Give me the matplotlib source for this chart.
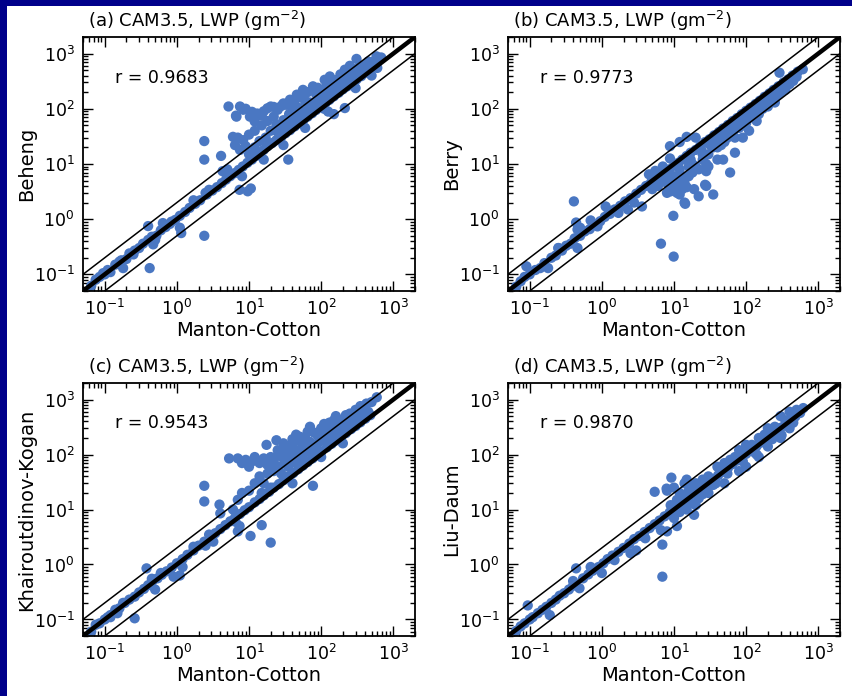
import numpy as np
import matplotlib.pyplot as plt
from matplotlib.patches import Rectangle

# values, (Manton-Cotton, scheme) pairs in g m^-2
beheng = [(0.065,0.062),(0.075,0.08),(0.085,0.09),(0.1,0.1),(0.11,0.12),(0.12,0.11),(0.14,0.15),(0.16,0.17),
          (0.2,0.19),(0.22,0.24),(0.26,0.27),(0.3,0.3),(0.34,0.36),(0.4,0.42),(0.45,0.48),(0.52,0.5),(0.6,0.63),
          (0.7,0.72),(0.8,0.82),(0.95,0.97),(1.1,1.15),(1.3,1.35),(1.5,1.6),(1.8,1.9),(2.1,2.2),(2.6,2.8),(3.1,3.3),
          (3.6,3.8),(4.2,4.5),(4.8,5.2),(5.5,6.0),(6.3,6.8),(7.2,7.8),(8.2,9.0),(9.5,10.5),(11,12),(12.5,14),(14,16),
          (16,18),(18,21),(21,24),(24,27),(28,31),(32,36),(37,41),(43,48),(50,55),(57,63),(65,72),(75,83),(85,95),
          (100,112),(115,128),(130,145),(150,168),(175,195),(200,225),(230,255),(270,300),(310,340),(360,390),
          (420,450),(480,510),
          (5.2,110),(6.6,75),(7.5,110),(8.3,96),(6.7,72),(10.3,72),(12,59),(9,100),(11,88),(13,82),(15,75),(16,90),
          (18,102),(20,110),(22,108),(25,96),(28,112),(30,125),(33,118),(37,146),(42,130),(46,180),(52,160),(56,220),
          (65,200),(77,255),(90,240),(112,335),(132,385),(160,330),(185,420),(213,510),(250,440),(309,800),(350,560),
          (420,590),(500,700),(585,890),(680,850),
          (27,48),(22,72),(18,60),(15,50),(12,40),(10,34),(8.3,27),(7,30),(6,31),(6.4,22),(7.5,18),(9,21),(10,15),
          (12,20),(14,26),(17,30),(20,40),(24,52),(30,62),(36,80),(40,92),(48,105),(60,140),(70,130),(85,185),
          (100,200),(120,260),(140,280),(170,300),(200,380),(260,420),(300,520),(380,600),(450,720),
          (25,38),(32,50),(38,60),(45,75),(55,90),(68,105),(80,125),(95,150),(110,170),(130,210),(150,240),
          (180,270),(220,320),(280,380),(330,450),(400,560),(550,650),(250,600),(200,300),(160,230),
          (2.4,26),(2.4,12),(2.4,0.5),(0.42,0.13),(0.4,0.75),(0.47,0.35),(0.5,0.42),(0.64,0.85),(0.84,0.9),(1.1,0.7),
          (1.15,0.56),(1.7,2.2),(0.18,0.13),(0.17,0.18),(0.25,0.23),(0.095,0.105),(2.5,3.0),(2.8,3.4),(4.1,14),
          (4.3,7.4),(5,8),(7.4,3.4),(9.6,3.2),(10.6,3.6),(35,12),(125,89),(213,103),(150,80),(300,237),(60,45),
          (30,22),(16,12),(8,6),(110,100),(500,400),(600,550)]

berry = [(0.065,0.06),(0.075,0.075),(0.085,0.09),(0.09,0.14),(0.1,0.1),(0.12,0.12),(0.14,0.13),(0.16,0.16),
         (0.18,0.13),(0.2,0.2),(0.23,0.22),(0.25,0.3),(0.28,0.27),(0.32,0.33),(0.37,0.36),(0.42,0.45),(0.5,0.5),
         (0.58,0.6),(0.68,0.66),(0.8,0.8),(0.95,0.92),(1.1,1.1),(1.3,1.25),(1.5,1.5),(1.8,1.75),(2.1,2.1),
         (2.5,2.4),(3.0,2.9),(3.5,3.4),(4.1,4.0),(4.8,4.6),(5.6,5.3),(6.5,6.2),(7.5,7.0),(8.6,8.0),(10,9.3),
         (11.5,10.5),(13,12),(15,14),(17,16),(20,18),(23,21),(27,25),(31,28),(36,33),(42,38),(48,44),(56,51),
         (65,60),(75,68),(87,80),(100,92),(115,105),(135,122),(155,140),(180,165),(210,190),(240,220),(280,255),
         (330,300),(380,340),(440,400),(520,470),
         (5,3.5),(6,4),(7,5),(8,4.5),(9,5.5),(10,6),(11,4),(12,5),(13,3.5),(14,4.5),(10,3.5),(11,3),(12,2.8),
         (9,3.2),(8,3),(15,3.8),(13,4.8),(14,2.0),(16,6),(18,7),(20,9),(22,8),(25,12),(28,10),(30,15),(27,4.2),
         (35,2.8),(48,12),(60,7),(40,20),(45,22),(50,25),(55,30),(65,35),(70,30),(80,45),(90,50),(100,55),
         (110,40),(120,70),(140,60),(150,80),(170,100),(200,110),(220,150),(250,130),(280,180),(300,200),
         (350,220),(400,280),(450,320),(500,380),(610,520),(290,450),(15,31),(8.8,21),(8.8,12.6),(12,25),
         (20,30),(22,2.6),(28,4.0),(19,3.5),(28,7.4),(90,30),(70,16),(18,10),(25,15),(35,20),(40,12),(60,40),
         (17,12),(24,18),(32,22),(40,28),(52,38),(75,50),(95,70),(130,90),(160,120),(190,130),(260,200),
         (330,240),(380,300),(12,8),(10,4.5),(11,5.5),(13,6),(9,4),(16,9),(30,9),(45,30),
         (0.41,2.1),(0.44,0.87),(0.46,0.65),(0.46,0.3),(0.7,0.95),(0.87,0.74),(1.13,1.7),(1.25,1.4),(2.8,2.0),
         (3.6,1.7),(6.6,0.36),(9.9,0.21),(9.8,1.15),(14.3,1.9),(0.25,0.3),(0.5,0.7),(1.7,1.3),(2.3,1.5),(4.5,6.5),
         (5.5,7.5),(7,9)]

kogan = [(0.065,0.06),(0.075,0.08),(0.085,0.085),(0.1,0.1),(0.11,0.11),(0.12,0.12),(0.14,0.15),(0.16,0.16),
         (0.19,0.2),(0.22,0.23),(0.26,0.26),(0.3,0.31),(0.35,0.36),(0.4,0.42),(0.46,0.5),(0.54,0.56),(0.62,0.65),
         (0.72,0.75),(0.85,0.88),(1.0,1.05),(1.2,1.25),(1.4,1.5),(1.7,1.8),(2.0,2.2),(2.4,2.6),(2.9,3.1),(3.4,3.7),
         (4.0,4.4),(4.7,5.2),(5.5,6.1),(6.4,7.1),(7.5,8.3),(8.7,9.7),(10,11),(12,13.5),(14,15.5),(16,18),(19,21),
         (22,25),(26,29),(30,34),(35,40),(41,46),(48,54),(56,63),(65,73),(76,85),(88,99),(100,113),(120,135),
         (140,157),(160,180),(190,210),(220,245),(260,290),(300,330),(350,385),(410,450),(480,520),
         (5.3,85),(7,85),(8,70),(9,80),(10,60),(11,75),(12,90),(14,70),(16,85),(18,65),(20,90),(22,75),(25,95),
         (28,110),(30,85),(33,130),(36,100),(40,150),(45,120),(50,180),(55,140),(60,200),(70,170),(80,250),
         (90,220),(100,300),(120,280),(140,350),(160,330),(180,400),(200,420),(250,450),(300,500),(350,550),
         (400,480),(590,1100),(500,900),(424,845),(250,556),(51,210),(24,182),(17.5,150),(30,160),(40,190),
         (65,260),(110,360),(150,420),(220,520),(300,650),(350,760),(15,20),(20,25),(10,22),(8,20),(7,15),
         (6,10),(12,30),(14,40),(18,45),(22,50),(26,60),(32,70),(40,80),(48,95),(60,110),(75,140),(90,160),
         (130,200),(170,250),(230,330),(280,380),(380,500),(450,600),
         (28,45),(35,60),(45,70),(55,90),(70,110),(85,130),(110,180),(140,230),(190,300),(240,380),(320,420),
         (400,650),(16,30),(20,55),(25,120),(35,140),(45,230),(70,320),(100,220),(130,380),(160,500),
         (2.4,27),(2.4,14),(3.9,12.3),(4,8.5),(20,2.5),(10.5,3.3),(15,5.2),(7.4,5),(0.38,0.85),(0.26,0.105),
         (0.18,0.2),(1.1,0.63),(1.7,2.1),(77,27),(7,4),(6.5,6),(0.45,0.55),(0.5,0.35),(0.6,0.7),(0.9,0.6),
         (1.2,0.9),(0.15,0.13),(0.12,0.11),(2.8,3.5),(3.2,2.6),(2.5,2.2),(40,30),(100,90),(200,160)]

liu_daum = [(0.065,0.062),(0.075,0.075),(0.085,0.085),(0.094,0.18),(0.1,0.1),(0.11,0.11),(0.13,0.13),
            (0.15,0.15),(0.17,0.17),(0.19,0.12),(0.2,0.2),(0.23,0.23),(0.26,0.27),(0.3,0.3),(0.35,0.35),
            (0.4,0.41),(0.44,0.85),(0.49,0.37),(0.55,0.56),(0.65,0.66),(0.75,0.77),(0.9,0.9),(1.05,1.05),
            (1.2,1.25),(1.4,1.45),(1.7,1.7),(2.0,2.0),(2.4,2.4),(2.8,2.9),(3.3,3.3),(3.9,3.9),(4.6,4.6),(5.4,5.4),
            (6.3,6.3),(7.4,7.5),(8.7,8.8),(10,10.2),(12,12),(14,14),(16,16.5),(19,19.5),(22,22),(26,26),(30,31),
            (35,36),(41,42),(48,49),(56,57),(65,67),(76,78),(88,90),(100,103),(120,122),(140,143),(160,165),
            (190,195),(220,225),(260,265),(300,305),(350,360),(410,420),(480,490),(560,570),
            (6.9,0.6),(5.4,21),(7.9,24),(9.2,38),(15,35),(6.9,2.3),(6.6,4.2),(19,8),(11,5),(310,224),(140,100),
            (8,22),(10,25),(12,20),(14,30),(18,28),(20,30),(25,35),(30,40),(40,60),(50,70),(60,80),(80,120),
            (100,150),(150,200),(200,300),(300,500),(400,600),(500,650),(620,700),
            (30,20),(50,30),(80,50),(100,60),(150,90),(200,140),(300,200),(400,300),(20,12),(15,10),(8,4),
            (3,1.8),(2.5,1.6),(1,0.7),(9,12),(11,15),(13,18),(16,22),(10,7),(12,9),(17,13),(25,19),(35,28),
            (45,55),(70,90),(120,150),(180,230),(250,320),(0.4,0.5),(0.7,0.9),(1.5,1.2),(4,3),
            (22,16),(28,25),(38,30),(55,45),(65,80),(90,75),(110,130),(130,110),(170,200),(230,190),(350,420),
            (450,380),(9,9),(11,13),(13,11)]

labels = ['(a) CAM3.5, LWP (gm$^{-2}$)', '(b) CAM3.5, LWP (gm$^{-2}$)',
          '(c) CAM3.5, LWP (gm$^{-2}$)', '(d) CAM3.5, LWP (gm$^{-2}$)']
ynames = ['Beheng', 'Berry', 'Khairoutdinov-Kogan', 'Liu-Daum']
rvals = ['0.9683', '0.9773', '0.9543', '0.9870']
panels = [beheng, berry, kogan, liu_daum]

lo, hi = 0.05, 2000.0
blue = '#4a77c2'

fig = plt.figure(figsize=(8.52, 6.96), dpi=100, facecolor='#00008a')
# white sheet, navy only shows on the top and left edges
fig.patches.append(Rectangle((7/852, 0), 1, 690/696, transform=fig.transFigure,
                             facecolor='white', edgecolor='none', zorder=-10))

boxes = [[0.0974, 0.5819, 0.3897, 0.365], [0.5962, 0.5819, 0.3897, 0.365],
         [0.0974, 0.0862, 0.3897, 0.3635], [0.5962, 0.0862, 0.3897, 0.3635]]

for i in range(4):
    ax = fig.add_axes(boxes[i])
    pts = np.array(panels[i])
    ax.scatter(pts[:, 0], pts[:, 1], s=55, color=blue, edgecolors='none', zorder=2)
    line = np.array([lo, hi])
    ax.plot(line, line, color='black', lw=3.2, zorder=3)
    ax.plot(line, 2*line, color='black', lw=1.1, zorder=3)
    ax.plot(line, line/2, color='black', lw=1.1, zorder=3)
    ax.set_xscale('log')
    ax.set_yscale('log')
    ax.set_xlim(lo, hi)
    ax.set_ylim(lo, hi)
    ax.set_xticks([0.1, 1, 10, 100, 1000])
    ax.set_yticks([0.1, 1, 10, 100, 1000])
    ax.tick_params(which='both', direction='in', top=True, right=True, labelsize=12.5, width=1.0)
    ax.tick_params(which='major', length=7, pad=6)
    ax.tick_params(which='minor', length=3.5)
    for s in ax.spines.values():
        s.set_linewidth(1.3)
    ax.set_title(labels[i], loc='left', fontsize=13, pad=7, x=0.015)
    ax.set_xlabel('Manton-Cotton', fontsize=14, labelpad=1)
    ax.set_ylabel(ynames[i], fontsize=14, labelpad=-2)
    ax.text(0.095, 0.84, 'r = ' + rvals[i], transform=ax.transAxes, fontsize=12.5, va='center')

fig.savefig('out.png', dpi=100, facecolor=fig.get_facecolor())
